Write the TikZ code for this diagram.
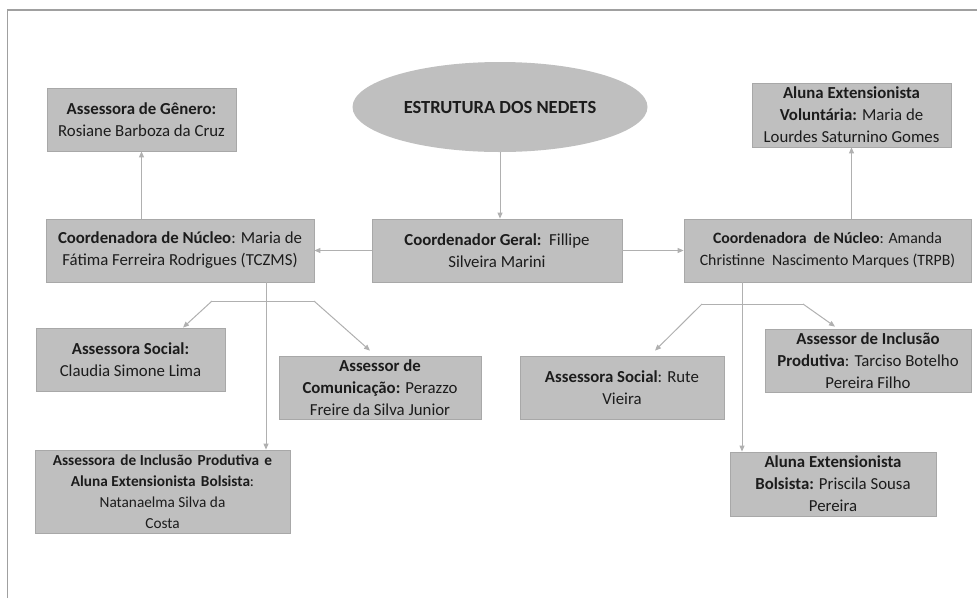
\documentclass[tikz,border=0pt]{standalone}
\usepackage{fontspec}
\setmainfont{Carlito}
\usetikzlibrary{arrows.meta,shapes.geometric}
\definecolor{boxgray}{HTML}{BFBFBF}
\definecolor{boxline}{HTML}{A8A8A8}
\definecolor{arrgray}{HTML}{B0B0B0}
\definecolor{txt}{HTML}{1C1C1C}
\definecolor{framegray}{HTML}{A0A0A0}
\newcommand{\wsp}{\ \hspace{0.12em}}
\tikzset{
  bx/.style 2 args={rectangle, fill=boxgray, draw=boxline, line width=0.8pt,
    minimum width=#1, minimum height=#2, inner sep=0pt, align=center,
    text=txt, font=\fontsize{16.8}{22}\selectfont},
  ell/.style={ellipse, fill=boxgray, draw=none, minimum width=295pt,
    minimum height=90pt, inner sep=0pt, text=txt, font=\fontsize{18.5}{22}\selectfont\bfseries},
  arr/.style={draw=arrgray, line width=1pt, -{Triangle[length=6pt,width=5pt]}},
  ln/.style={draw=arrgray, line width=1pt},
  frm/.style={draw=framegray, line width=1.6pt}
}
\begin{document}
\begin{tikzpicture}[x=1pt,y=-1pt]
\useasboundingbox (0,0) rectangle (977,598);
\draw[frm] (7.5,598) -- (7.5,10) -- (977,10);

\node[ell] (ell) at (500,107) {ESTRUTURA DOS NEDETS};
\node[bx={189pt}{63pt}] (gen) at (141.5,119.5) {\textbf{Assessora de Gênero:}\\Rosiane Barboza da Cruz};
\node[bx={250pt}{63pt}] (geral) at (497,250.5) {\textbf{Coordenador Geral:}\ \ Fillipe\\Silveira Marini};
\node[bx={268pt}{63pt}] (lcoord) at (180,250.5) {\textbf{Coordenadora de Núcleo}: Maria de\\Fátima Ferreira Rodrigues (TCZMS)};
\node[bx={287pt}{63pt}, font=\fontsize{15.8}{22}\selectfont] (rcoord) at (827.5,250.5) {\textbf{Coordenadora\ \ de Núcleo}: Amanda\\Christinne\ \ Nascimento Marques (TRPB)};
\node[bx={199pt}{64pt}] (vol) at (851.5,115) {\textbf{Aluna Extensionista}\\\textbf{Voluntária:} Maria de\\Lourdes Saturnino Gomes};
\node[bx={189pt}{63pt}] (lsoc) at (130.5,359.5) {\textbf{Assessora Social:}\\Claudia Simone Lima};
\node[bx={202pt}{63pt}] (com) at (380,387.5) {\textbf{Assessor de}\\\textbf{Comunicação:} Perazzo\\Freire da Silva Junior};
\node[bx={255pt}{83pt}, font=\fontsize{15.3}{21}\selectfont] (linc) at (162.5,491.5) {\textbf{Assessora\wsp de Inclusão\wsp Produtiva\wsp e}\\\textbf{Aluna Extensionista\wsp Bolsista}:\\Natanaelma Silva da\\Costa};
\node[bx={204pt}{63pt}] (rsoc) at (622,387.5) {\textbf{Assessora Social}: Rute\\Vieira};
\node[bx={206pt}{63pt}] (tar) at (868,360.5) {\textbf{Assessor de Inclusão}\\\textbf{Produtiva}: Tarciso Botelho\\Pereira Filho};
\node[bx={206pt}{64pt}] (bol) at (833,484) {\textbf{Aluna Extensionista}\\\textbf{Bolsista:} Priscila Sousa\\Pereira};

% main connectors
\draw[arr] (ell.south) -- (ell.south |- geral.north);
\draw[arr] (geral.west) -- (lcoord.east);
\draw[arr] (geral.east) -- (rcoord.west);
\draw[arr] (gen.south |- lcoord.north) -- (gen.south);
\draw[arr] (vol.south |- rcoord.north) -- (vol.south);

% left branch
\coordinate (lv) at (266,0);
\draw[arr] (lv |- lcoord.south) -- (lv |- linc.north);
\coordinate (lb1) at (212,301);
\coordinate (lb2) at (314,301);
\draw[ln] (lb1) -- (lb2);
\draw[arr] (lb1) -- ([xshift=52.5pt]lsoc.north);
\draw[arr] (lb2) -- ([xshift=-10pt,yshift=5pt]com.north);

% right branch
\coordinate (rv) at (742,0);
\draw[arr] (rv |- rcoord.south) -- (rv |- bol.north);
\coordinate (rb1) at (702,304);
\coordinate (rb2) at (803,304);
\draw[ln] (rb1) -- (rb2);
\draw[arr] (rb1) -- ([xshift=33pt,yshift=5pt]rsoc.north);
\draw[arr] (rb2) -- ([xshift=-33pt,yshift=2pt]tar.north);
\end{tikzpicture}
\end{document}
